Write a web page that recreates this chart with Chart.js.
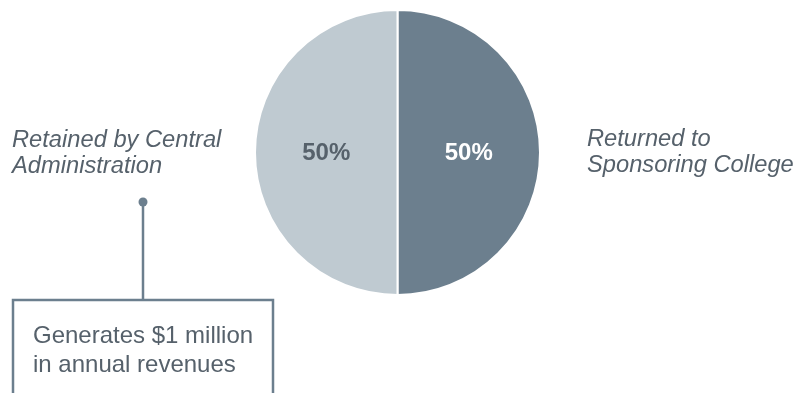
<!DOCTYPE html>
<html>
<head>
<meta charset="utf-8">
<script src="https://cdn.jsdelivr.net/npm/chart.js@4"></script>
<style>
  html, body { margin: 0; padding: 0; background: #fff; }
  #wrap { position: relative; width: 797px; height: 393px; overflow: hidden; }
  canvas { position: absolute; left: 0; top: 0; }
</style>
</head>
<body>
<div id="wrap"><canvas id="pie" width="797" height="393"></canvas></div>
<script>
// Chart data
const categories = ['Returned to Sponsoring College', 'Retained by Central Administration'];
const shares = [50, 50];
const sliceColors = ['#6c7f8e', '#bfcad1'];
const labelColors = ['#ffffff', '#56616b'];
const sideLabels = [['Returned to', 'Sponsoring College'], ['Retained by Central', 'Administration']];
const calloutLines = ['Generates $1 million', 'in annual revenues'];

const textGrey = '#56616b';
const lineGrey = '#6c7f8e';

// Draw the percent labels, side labels and callout box
const annotations = {
  id: 'annotations',
  afterDatasetsDraw(chart) {
    const ctx = chart.ctx;
    const meta = chart.getDatasetMeta(0);
    ctx.save();

    // percent labels in the middle of each slice
    ctx.font = 'bold 24px "Liberation Sans", Arial, sans-serif';
    ctx.textAlign = 'center';
    ctx.textBaseline = 'middle';
    meta.data.forEach((arc, i) => {
      const p = arc.getCenterPoint();
      ctx.fillStyle = labelColors[i];
      ctx.fillText(shares[i] + '%', p.x, p.y + 1);
    });

    // side labels
    ctx.font = 'italic 23.7px "Liberation Sans", Arial, sans-serif';
    ctx.textAlign = 'left';
    ctx.textBaseline = 'alphabetic';
    ctx.fillStyle = textGrey;
    sideLabels[0].forEach((t, k) => ctx.fillText(t, 587, 146 + k * 26));
    sideLabels[1].forEach((t, k) => ctx.fillText(t, 12, 147 + k * 26));

    // callout connector and dot
    ctx.strokeStyle = lineGrey;
    ctx.fillStyle = lineGrey;
    ctx.lineWidth = 2.5;
    ctx.beginPath();
    ctx.moveTo(143, 202);
    ctx.lineTo(143, 300);
    ctx.stroke();
    ctx.beginPath();
    ctx.arc(143, 202, 4.5, 0, Math.PI * 2);
    ctx.fill();

    // callout box (runs off the bottom edge)
    ctx.beginPath();
    ctx.moveTo(13, 400);
    ctx.lineTo(13, 300);
    ctx.lineTo(273, 300);
    ctx.lineTo(273, 400);
    ctx.stroke();

    ctx.font = '24px "Liberation Sans", Arial, sans-serif';
    ctx.fillStyle = textGrey;
    calloutLines.forEach((t, k) => ctx.fillText(t, 33, 343 + k * 29));

    ctx.restore();
  }
};

new Chart(document.getElementById('pie').getContext('2d'), {
  type: 'pie',
  data: {
    labels: categories,
    datasets: [{
      data: shares,
      backgroundColor: sliceColors,
      borderColor: '#ffffff',
      borderWidth: 2
    }]
  },
  options: {
    responsive: false,
    animation: false,
    layout: { padding: { top: 9, bottom: 97, left: 0, right: 2 } },
    plugins: {
      legend: { display: false },
      tooltip: { enabled: false }
    }
  },
  plugins: [annotations]
});
</script>
</body>
</html>
